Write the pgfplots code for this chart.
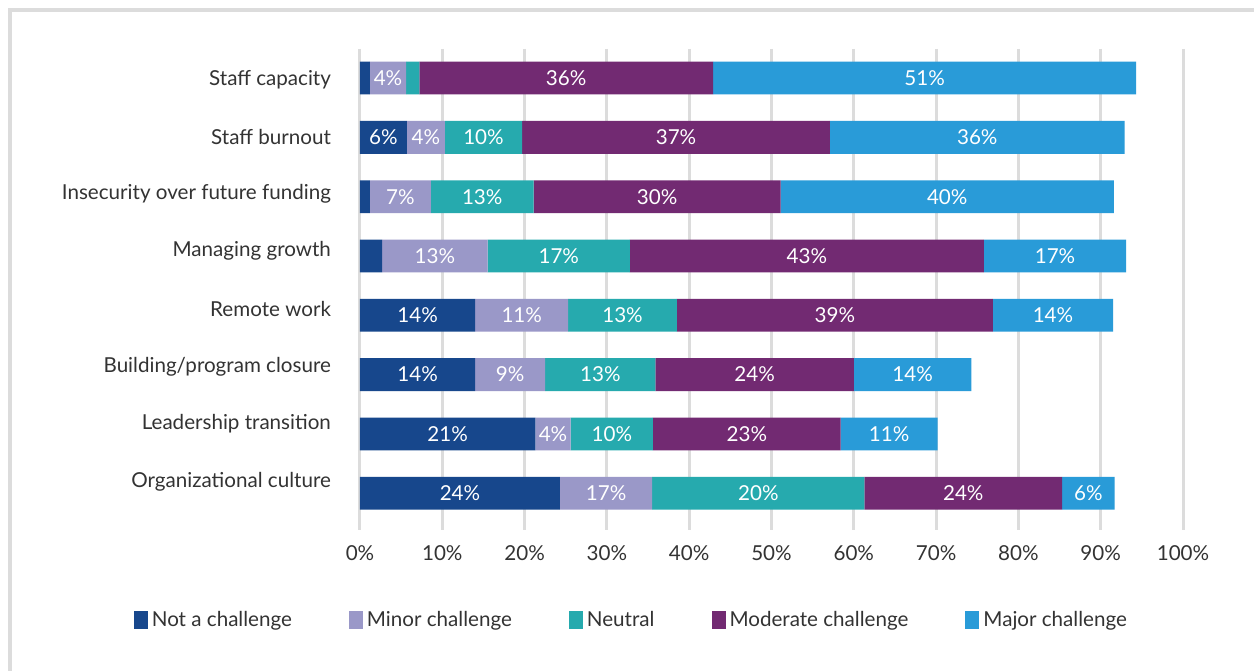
\documentclass[border=0pt]{standalone}
\usepackage{fontspec}
\setmainfont{Lato}
\usepackage{pgfplots}
\pgfplotsset{compat=1.18}
\usepackage{pgfplotstable}
\definecolor{cNot}{HTML}{17478C}
\definecolor{cMin}{HTML}{9A98C8}
\definecolor{cNeu}{HTML}{26AAAE}
\definecolor{cMod}{HTML}{722A72}
\definecolor{cMaj}{HTML}{299BD8}
\definecolor{gridc}{HTML}{DCDCDC}
\definecolor{txt}{HTML}{333333}

\pgfplotstableread{
y notc minor neutral moder major
0 1.2 4.4 1.6 35.7 51.4
1 5.7 4.6 9.4 37.4 35.8
2 1.2 7.4 12.5 30.0 40.5
3 2.7 12.8 17.3 43.0 17.3
4 14.0 11.3 13.2 38.4 14.6
5 14.0 8.5 13.4 24.1 14.3
6 21.3 4.3 10.0 22.8 11.8
7 24.3 11.2 25.8 24.0 6.4
}\datatable

\pgfplotstableread{
x y lab
3.4 0 4
25.05 0 36
68.6 0 51
2.85 1 6
8.0 1 4
15.0 1 10
38.4 1 37
75.0 1 36
4.9 2 7
14.85 2 13
36.1 2 30
71.35 2 40
9.1 3 13
24.15 3 17
54.3 3 43
84.45 3 17
7.0 4 14
19.65 4 11
31.9 4 13
57.7 4 39
84.2 4 14
7.0 5 14
18.25 5 9
29.2 5 13
47.95 5 24
67.15 5 14
10.65 6 21
23.45 6 4
30.6 6 10
47.0 6 23
64.3 6 11
12.15 7 24
29.9 7 17
48.4 7 20
73.3 7 24
88.5 7 6
}\labtable

\newcommand\chartfont{\fontsize{10.3}{12}\selectfont}

\begin{document}
\begin{tikzpicture}
\useasboundingbox (0,0) rectangle (627pt,335pt);
\fill[white] (0,0) rectangle (627pt,335pt);
\draw[line width=2pt, color=gridc] (5pt,-10pt) |- (700pt,330pt);
\begin{axis}[
  at={(180pt,70pt)}, anchor=south west,
  scale only axis, width=411.5pt, height=240.5pt,
  xbar stacked, bar width=16.4pt,
  xmin=0, xmax=100, ymin=-0.49, ymax=7.62, y dir=reverse,
  xtick={0,10,...,100},
  xticklabel={\pgfmathprintnumber{\tick}\%},
  /pgf/number format/assume math mode=true,
  ytick={0.02,0.99,1.95,2.92,3.89,4.86,5.82,6.8},
  yticklabels={Staff capacity, Staff burnout, Insecurity over future funding, Managing growth, Remote work, Building/program closure, Leadership transition, Organizational culture},
  axis line style={draw=none}, tick style={draw=none},
  xmajorgrids, grid style={line width=1.5pt, color=gridc},
  ticklabel style={font=\chartfont, text=txt},
  yticklabel style={xshift=-11pt},
  xticklabel style={yshift=-4.5pt},
  legend columns=5,
  legend style={draw=none, at={(0.331,-0.187)}, anchor=center,
    font=\chartfont, text=txt,
    /tikz/every even column/.append style={column sep=26.5pt}},
  legend image code/.code={\fill[#1, draw=none] (-1.5pt,-4.5pt) rectangle (5.5pt,4.5pt);},
]
\addplot[fill=cNot, draw=none] table[x=notc, y=y] \datatable;
\addplot[fill=cMin, draw=none] table[x=minor, y=y] \datatable;
\addplot[fill=cNeu, draw=none] table[x=neutral, y=y] \datatable;
\addplot[fill=cMod, draw=none] table[x=moder, y=y] \datatable;
\addplot[fill=cMaj, draw=none] table[x=major, y=y] \datatable;
\legend{Not a challenge, Minor challenge, Neutral, Moderate challenge, Major challenge}
\end{axis}
\begin{axis}[
  at={(180pt,70pt)}, anchor=south west,
  scale only axis, width=411.5pt, height=240.5pt,
  xmin=0, xmax=100, ymin=-0.49, ymax=7.62, y dir=reverse,
  hide axis,
]
\addplot[draw=none, mark=none, point meta=explicit symbolic,
  nodes near coords={\pgfplotspointmeta\%},
  nodes near coords align={center},
  every node near coord/.append style={text=white, font=\chartfont}]
  table[x=x, y=y, meta=lab] \labtable;
\end{axis}
\end{tikzpicture}
\end{document}
